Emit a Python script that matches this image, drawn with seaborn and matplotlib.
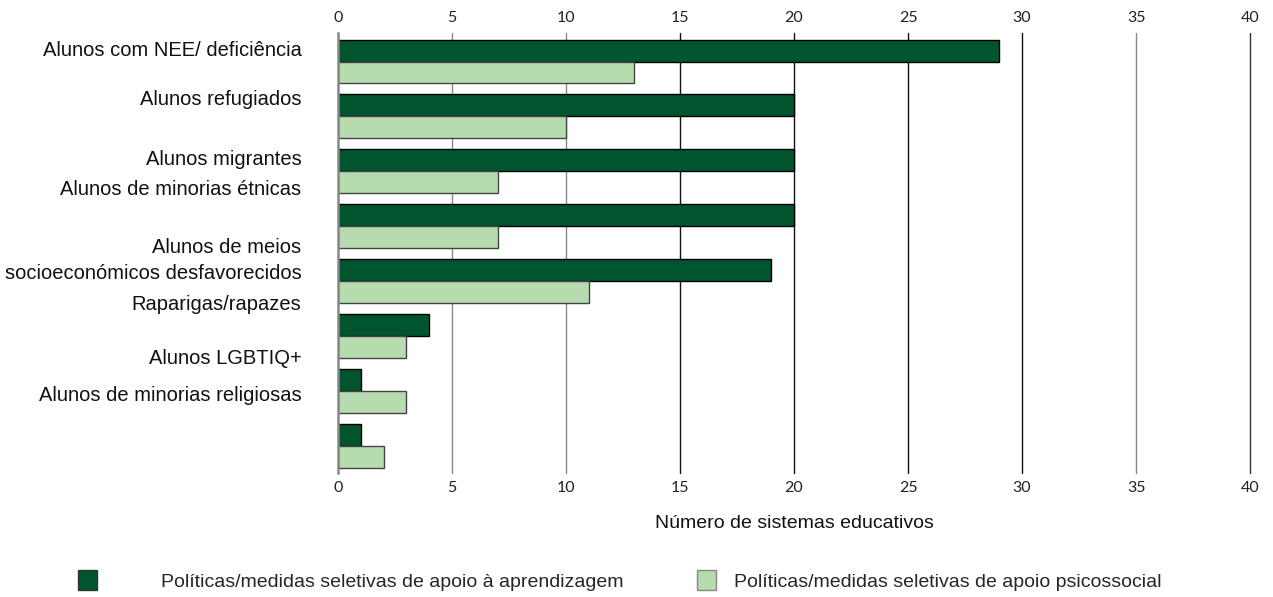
import pandas as pd
import matplotlib.pyplot as plt
import matplotlib.patches as mpatches
import seaborn as sns

# Data
categories = ['Alunos com NEE/ deficiência', 'Alunos refugiados', 'Alunos migrantes',
              'Alunos de minorias étnicas', 'Alunos de meios\nsocioeconómicos desfavorecidos',
              'Raparigas/rapazes', 'Alunos LGBTIQ+', 'Alunos de minorias religiosas']
learning = [29, 20, 20, 20, 19, 4, 1, 1]
psychosocial = [13, 10, 7, 7, 11, 3, 3, 2]
series_names = ['Políticas/medidas seletivas de apoio à aprendizagem',
                'Políticas/medidas seletivas de apoio psicossocial']
x_ticks = [0, 5, 10, 15, 20, 25, 30, 35, 40]

# where the source places each category label (in category units)
label_pos = [-0.2, 0.69, 1.79, 2.33, 3.63, 4.43, 5.42, 6.09]

dark = '#00552e'
light = '#b5dbae'

sns.set_theme(style='white')
plt.rcParams['font.family'] = ['Liberation Sans', 'DejaVu Sans']

df = pd.DataFrame({
    'cat': categories * 2,
    'value': learning + psychosocial,
    'series': [series_names[0]] * len(categories) + [series_names[1]] * len(categories),
})

fig = plt.figure(figsize=(12.73, 5.97), dpi=100)
ax = fig.add_axes([0.2655, 0.2077, 0.7165, 0.737])

sns.barplot(data=df, y='cat', x='value', hue='series', orient='h',
            palette=[dark, light], order=categories, hue_order=series_names,
            width=0.8, ax=ax, legend=False, saturation=1)

for cont, ec in zip(ax.containers, ['black', '#444444']):
    for bar in cont:
        bar.set_edgecolor(ec)
        bar.set_linewidth(1.0)

ax.set_xlim(0, 40)
ax.set_ylim(len(categories) - 0.5, -0.52)
ax.set_xticks(x_ticks)
ax.set_xticklabels([str(t) for t in x_ticks])
ax.tick_params(axis='x', top=True, labeltop=True, bottom=True, labelbottom=True,
               length=0, pad=6, labelsize=11.5, labelcolor='#222222')
for lab in ax.get_xticklabels():
    lab.set_family(['Lato', 'DejaVu Sans'])
ax.set_yticks([])
ax.set_ylabel('')
ax.set_xlabel('Número de sistemas educativos', fontsize=14, labelpad=14, color='#111111')

ax.set_axisbelow(True)
ax.grid(axis='x', linewidth=1.0)
grid_colors = ['none', '#888888', '#888888', '#111111', '#111111', '#111111', '#111111', '#888888', '#333333']
for gl, c in zip(ax.xaxis.get_gridlines(), grid_colors):
    gl.set_color(c)
    gl.set_clip_on(False)

for s in ['top', 'right', 'bottom']:
    ax.spines[s].set_visible(False)
ax.spines['left'].set_color('#888888')
ax.spines['left'].set_linewidth(1.8)

for name, y in zip(categories, label_pos):
    ax.text(-1.6, y, name, ha='right', va='center', fontsize=14.5,
            color='#111111', linespacing=1.5)

h1 = mpatches.Patch(facecolor=dark, edgecolor='#333333', label=series_names[0])
h2 = mpatches.Patch(facecolor=light, edgecolor='#888888', label=series_names[1])
fig.legend(handles=[h1], loc='center left', bbox_to_anchor=(0.061, 0.028),
           frameon=False, fontsize=14, handlelength=1.0, handleheight=1.25,
           handletextpad=3.3, borderaxespad=0, borderpad=0)
fig.legend(handles=[h2], loc='center left', bbox_to_anchor=(0.5475, 0.028),
           frameon=False, fontsize=14, handlelength=1.0, handleheight=1.25,
           handletextpad=0.9, borderaxespad=0, borderpad=0)

fig.savefig('out.png', dpi=100)
